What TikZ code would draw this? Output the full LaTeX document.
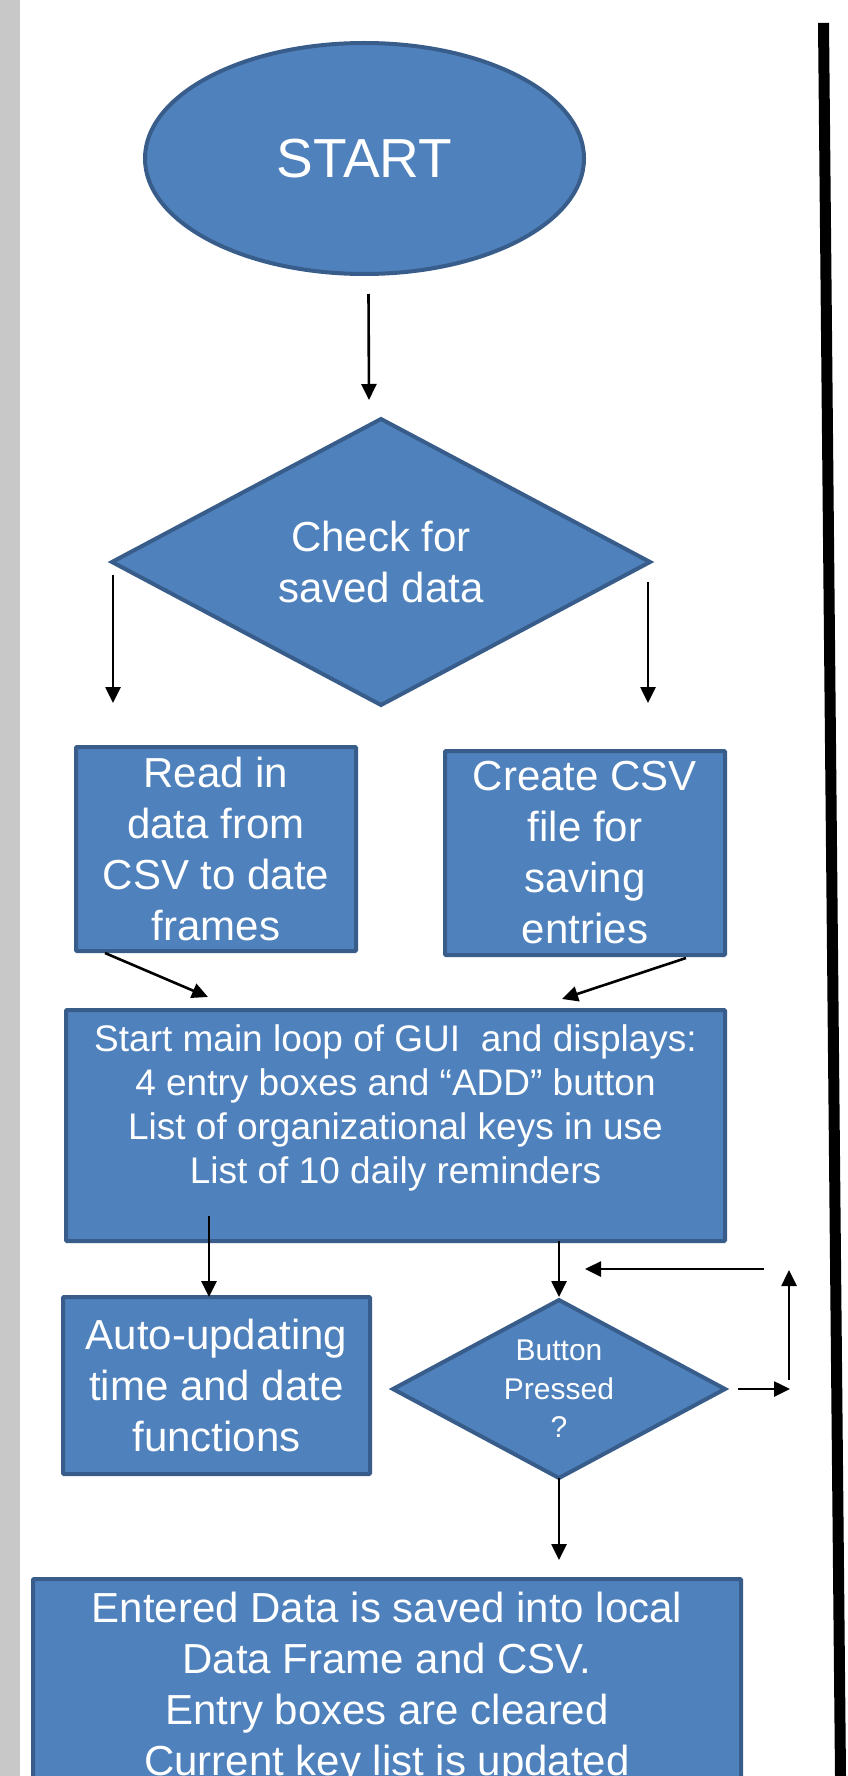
\documentclass[tikz,border=0pt]{standalone}
\usepackage{fontspec}
\setmainfont{Liberation Sans}
\usetikzlibrary{shapes.geometric,arrows.meta}
\definecolor{boxfill}{HTML}{4F81BD}
\definecolor{boxline}{HTML}{385D8A}
\definecolor{sidebar}{HTML}{C8C8C8}
\tikzset{
  shapebase/.style={fill=boxfill, draw=boxline, line width=4pt, text=white, inner sep=0pt, outer sep=0pt, align=center},
  boxnode/.style={shapebase, rectangle, rounded corners=1pt},
  ovalnode/.style={shapebase, ellipse},
  decnode/.style={shapebase, diamond},
  labeltext/.style={text=white, inner sep=0pt, outer sep=0pt, align=center},
  bigfont/.style={font=\fontsize{42}{51}\selectfont},
  midfont/.style={font=\fontsize{37}{43.8}\selectfont},
  smallfont/.style={font=\fontsize{30}{38.5}\selectfont},
  arr/.style={draw=black, line width=2.6pt, -{Triangle[width=15pt,length=16pt]}}
}
\begin{document}
\begin{tikzpicture}[x=1pt,y=-1pt]
\useasboundingbox (0,0) rectangle (847,1776);
\clip (0,0) rectangle (847,1776);
\fill[white] (0,0) rectangle (847,1776);
\fill[sidebar] (0,0) rectangle (20,1776);
\fill[black] (818,23) -- (829,23) -- (846,1776) -- (835,1776) -- cycle;

\node[ovalnode, minimum width=439pt, minimum height=231pt, font=\fontsize{55}{60}\selectfont] (start) at (364.5,158.5) {START};

\node[decnode, aspect=1.88, minimum width=538pt, minimum height=286pt, bigfont] (check) at (381,562) {Check for\\saved data};

\node[boxnode, minimum width=280pt, minimum height=204pt, bigfont] (read) at (216,849) {Read in\\data from\\CSV to date\\frames};

\node[boxnode, minimum width=280pt, minimum height=204pt, bigfont] (create) at (585,853) {Create CSV\\file for\\saving\\entries};

\node[boxnode, minimum width=659pt, minimum height=231pt] (main) at (395.5,1125.5) {};
\node[labeltext, midfont, anchor=north] (maintext) at (395.5,1025) {Start main loop of GUI\ \ and displays:\\4 entry boxes and “ADD” button\\List of organizational keys in use\\List of 10 daily reminders};

\node[boxnode, minimum width=307pt, minimum height=177pt, bigfont] (auto) at (216.5,1385.5) {Auto-updating\\time and date\\functions};

\node[decnode, aspect=1.87, minimum width=332pt, minimum height=178pt, smallfont] (button) at (559,1389) {Button\\Pressed\\?};

\node[boxnode, minimum width=708pt, minimum height=261pt] (final) at (387,1709.5) {};
\node[labeltext, bigfont, anchor=north] (finaltext) at (387,1592) {Entered Data is saved into local\\Data Frame and CSV.\\Entry boxes are cleared\\Current key list is updated};

% connectors
\draw[arr] ([xshift=4pt,yshift=-20pt]start.south) -- ([xshift=-12pt,yshift=19pt]check.north);
\draw[arr] ([xshift=1pt,yshift=-13pt]check.west) -- ++(0,128);
\draw[arr] ([xshift=-2pt,yshift=-20pt]check.east) -- ++(0,121);
\draw[arr] ([xshift=29pt,yshift=-2pt]read.south west) -- ([xshift=142pt,yshift=13pt]main.north west);
\draw[arr] ([xshift=-39pt,yshift=-3pt]create.south east) -- ([xshift=166.5pt,yshift=11pt]main.north);
\draw[arr] ([xshift=143pt,yshift=25pt]main.south west) -- ([xshift=146pt]auto.north west);
\draw[arr] (main.south -| button.north) -- ([yshift=3pt]button.north);
\draw[arr] ([xshift=13pt]button.east) -- ++(52,0);
\draw[arr] ([xshift=64pt,yshift=9pt]button.east) -- ++(0,-110);
\draw[arr] ([xshift=39pt,yshift=120pt]button.east) -- ++(-179,0);
\draw[arr] (button.south) -- ++(0,82);
\end{tikzpicture}
\end{document}
